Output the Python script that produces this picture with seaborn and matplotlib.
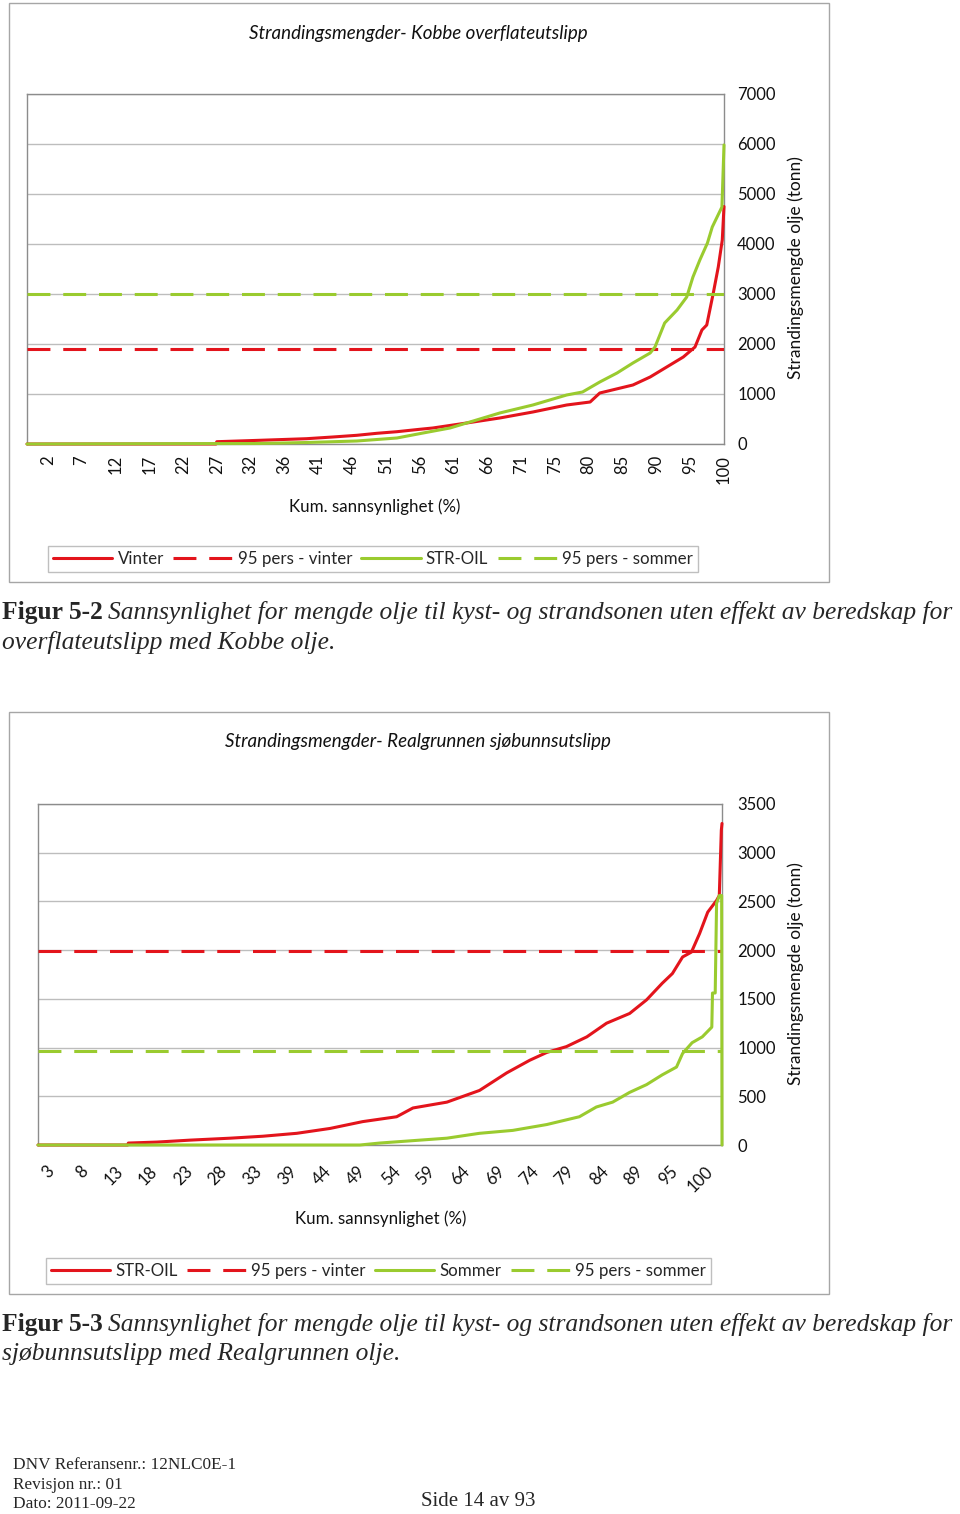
import numpy as np
import matplotlib
matplotlib.use("Agg")
import matplotlib.pyplot as plt
import seaborn as sns
from matplotlib.patches import Rectangle
from matplotlib.lines import Line2D
from matplotlib.transforms import ScaledTranslation

# Figur 5-2: Kobbe overflateutslipp (kum. sannsynlighet %, tonn)
kobbe_vinter_p = [-1.0, 26.4, 26.5, 32.7, 39.5, 43.3, 46.8, 49.7, 52.6, 55.9, 57.8, 62.7, 67.5,
                  72.3, 77.2, 80.6, 82.0, 86.8, 89.3, 91.7, 94.1, 95.8, 96.8, 97.5, 98.45,
                  99.17, 99.75, 100.0]
kobbe_vinter = [0, 0, 46, 74, 106, 140, 174, 214, 246, 294, 320, 420, 520,
                640, 780, 840, 1020, 1180, 1340, 1540, 1740, 1940, 2280, 2380, 3020,
                3540, 4080, 4750]
kobbe_str_p = [-1.0, 32.7, 39.5, 46.8, 52.6, 56.4, 60.3, 65.1, 67.5, 72.3, 77.2, 79.5, 82.0,
               84.5, 86.8, 89.3, 90.0, 91.4, 93.2, 94.6, 95.5, 96.5, 97.6, 98.3, 99.7, 100.0]
kobbe_str = [0, 10, 30, 60, 120, 220, 320, 520, 620, 780, 980, 1040, 1240,
             1420, 1620, 1820, 1940, 2420, 2680, 2940, 3340, 3680, 4020, 4340, 4740, 5980]
kobbe_p95_vinter = 1900
kobbe_p95_sommer = 3000
kobbe_xticks = ["2", "7", "12", "17", "22", "27", "32", "36", "41", "46", "51", "56",
                "61", "66", "71", "75", "80", "85", "90", "95", "100"]

# Figur 5-3: Realgrunnen sjøbunnsutslipp
real_str_p = [-0.7, 12.5, 12.6, 16.8, 21.7, 27.6, 32.4, 37.4, 42.3, 47.1, 52.1, 54.5, 59.5,
              64.3, 68.3, 71.7, 74.2, 77.1, 80.1, 83.0, 86.4, 88.9, 91.2, 92.7, 94.2, 95.5,
              96.7, 97.9, 99.2, 99.6, 99.9, 100.0]
real_str = [0, 0, 20, 30, 50, 70, 90, 120, 170, 240, 290, 380, 440,
            560, 740, 870, 950, 1010, 1110, 1250, 1350, 1490, 1660, 1760, 1930, 1980,
            2170, 2390, 2510, 2560, 3230, 3300]
real_sommer_p = [-0.7, 46.7, 49.6, 59.5, 64.3, 69.2, 74.2, 79.0, 81.5, 83.9, 86.4, 88.9,
                 91.2, 93.3, 94.2, 95.6, 97.1, 98.5, 98.6, 99.0, 99.2, 99.6, 99.95, 100.0]
real_sommer = [0, 0, 20, 70, 120, 150, 210, 290, 390, 440, 540, 620,
               720, 800, 940, 1050, 1110, 1210, 1560, 1560, 2480, 2560, 2560, 0]
real_p95_vinter = 1990
real_p95_sommer = 960
real_xticks = ["3", "8", "13", "18", "23", "28", "33", "39", "44", "49", "54", "59",
               "64", "69", "74", "79", "84", "89", "95", "100"]

sns.set_theme(style="white")
plt.rcParams['font.family'] = ['Lato', 'DejaVu Sans']

RED = "#E3141C"
GREEN = "#9ACB2F"
GRID = "#BDBDBD"
EDGE = "#8C8C8C"
LW = 2.2
DASH = (7.5, 4.2)
FS = 12.2      # axis labels / legend
TFS = 12.0     # tick labels
TITLE_FS = 13.5
CAP_FS = 18.4

W, H = 960, 1514
fig = plt.figure(figsize=(W / 100, H / 100), dpi=100)


def fx(x):
    return x / W


def fy(y):
    return 1 - y / H


def pix_axes(x0, y0, x1, y1):
    return fig.add_axes([fx(x0), fy(y1), (x1 - x0) / W, (y1 - y0) / H])


def chart_box(x0, y0, x1, y1):
    fig.patches.append(Rectangle((fx(x0), fy(y1)), (x1 - x0) / W, (y1 - y0) / H,
                                 transform=fig.transFigure, fill=False,
                                 edgecolor="#A6A6A6", lw=1))


def draw_chart(ax, s1, s2, p95_v, p95_s, ymax, ystep, xlim, ticklabels):
    sns.lineplot(x=s1[0], y=s1[1], ax=ax, color=RED, linewidth=LW,
                 estimator=None, sort=False, clip_on=False, zorder=3)
    ax.axhline(p95_v, color=RED, lw=LW, dashes=DASH, zorder=3)
    sns.lineplot(x=s2[0], y=s2[1], ax=ax, color=GREEN, linewidth=LW,
                 estimator=None, sort=False, clip_on=False, zorder=4)
    ax.axhline(p95_s, color=GREEN, lw=LW, dashes=DASH, zorder=4)
    ax.set_xlim(*xlim)
    ax.set_ylim(0, ymax)
    ax.set_yticks(np.arange(0, ymax + 1, ystep))
    ax.set_xticks(np.linspace(float(ticklabels[0]), 100, len(ticklabels)))
    ax.set_xticklabels(ticklabels)
    ax.yaxis.tick_right()
    ax.grid(axis="y", color=GRID, lw=1)
    ax.grid(axis="x", visible=False)
    for sp in ax.spines.values():
        sp.set_color(EDGE)
        sp.set_linewidth(1)
    ax.set_xlabel("")
    ax.set_ylabel("")


def legend_at(cx, cy, labels):
    handles = [Line2D([], [], color=RED, lw=LW),
               Line2D([], [], color=RED, lw=LW, dashes=DASH),
               Line2D([], [], color=GREEN, lw=LW),
               Line2D([], [], color=GREEN, lw=LW, dashes=DASH)]
    fig.legend(handles, labels, loc="center", bbox_to_anchor=(fx(cx), fy(cy)), ncol=4,
               fontsize=FS, frameon=True, fancybox=False, edgecolor="#BFBFBF",
               framealpha=1, handlelength=3.5, handletextpad=0.3, columnspacing=0.55,
               borderpad=0.3)


# ---------- top chart ----------
chart_box(9, 3, 829, 582)
ax1 = pix_axes(27, 94, 724, 444)
draw_chart(ax1, (kobbe_vinter_p, kobbe_vinter), (kobbe_str_p, kobbe_str),
           kobbe_p95_vinter, kobbe_p95_sommer, 7000, 1000, (-1.0, 100), kobbe_xticks)
ax1.tick_params(axis="y", length=0, pad=9.5, labelsize=TFS, labelcolor="#111111")
ax1.tick_params(axis="x", length=0, pad=8, labelsize=TFS, labelrotation=90, labelcolor="#111111")

fig.text(fx(418), fy(34), "Strandingsmengder- Kobbe overflateutslipp", ha="center",
         va="center", fontsize=TITLE_FS, style="italic", color="#111111")
fig.text(fx(375), fy(507), "Kum. sannsynlighet (%)", ha="center", va="center",
         fontsize=FS, color="#111111")
fig.text(fx(796), fy(268), "Strandingsmengde olje (tonn)", ha="center", va="center",
         rotation=90, fontsize=FS + 0.3, color="#111111")
legend_at(373, 559, ["Vinter", "95 pers - vinter", "STR-OIL", "95 pers - sommer"])

# ---------- bottom chart ----------
chart_box(9, 712, 829, 1294)
ax2 = pix_axes(38, 804, 722, 1145)
draw_chart(ax2, (real_str_p, real_str), (real_sommer_p, real_sommer),
           real_p95_vinter, real_p95_sommer, 3500, 500, (-0.7, 100), real_xticks)
ax2.tick_params(axis="y", length=0, pad=11, labelsize=TFS, labelcolor="#111111")
ax2.tick_params(axis="x", length=0, pad=17, labelsize=TFS, labelcolor="#111111")
shift = ScaledTranslation(-12 / 100, 0, fig.dpi_scale_trans)
for lab in ax2.get_xticklabels():
    lab.set_rotation(45)
    lab.set_ha("right")
    lab.set_va("center")
    lab.set_rotation_mode("anchor")
    lab.set_transform(lab.get_transform() + shift)

fig.text(fx(418), fy(742), "Strandingsmengder- Realgrunnen sjøbunnsutslipp", ha="center",
         va="center", fontsize=TITLE_FS, style="italic", color="#111111")
fig.text(fx(381), fy(1219), "Kum. sannsynlighet (%)", ha="center", va="center",
         fontsize=FS, color="#111111")
fig.text(fx(796), fy(974), "Strandingsmengde olje (tonn)", ha="center", va="center",
         rotation=90, fontsize=FS + 0.3, color="#111111")
legend_at(378.5, 1271, ["STR-OIL", "95 pers - vinter", "Sommer", "95 pers - sommer"])

# ---------- captions ----------
serif = "Liberation Serif"
renderer = fig.canvas.get_renderer()


def caption(y, bold, rest):
    t = fig.text(fx(2), fy(y), bold, ha="left", va="center", fontsize=CAP_FS,
                 fontweight="bold", family=serif)
    bb = t.get_window_extent(renderer)
    fig.text(fx(bb.x1 + 5), fy(y), rest, ha="left", va="center", fontsize=CAP_FS,
             style="italic", family=serif)


caption(613, "Figur 5-2",
        "Sannsynlighet for mengde olje til kyst- og strandsonen uten effekt av beredskap for")
fig.text(fx(2), fy(642), "overflateutslipp med Kobbe olje.", ha="left", va="center",
         fontsize=CAP_FS, style="italic", family=serif)
caption(1325, "Figur 5-3",
        "Sannsynlighet for mengde olje til kyst- og strandsonen uten effekt av beredskap for")
fig.text(fx(2), fy(1354), "sjøbunnsutslipp med Realgrunnen olje.", ha="left", va="center",
         fontsize=CAP_FS, style="italic", family=serif)

# ---------- footer ----------
fig.text(fx(13), fy(1465), "DNV Referansenr.: 12NLC0E-1", ha="left", va="center",
         fontsize=12.4, family=serif)
fig.text(fx(13), fy(1485), "Revisjon nr.: 01", ha="left", va="center",
         fontsize=12.4, family=serif)
fig.text(fx(13), fy(1504), "Dato: 2011-09-22", ha="left", va="center",
         fontsize=12.4, family=serif)
fig.text(fx(421), fy(1502), "Side 14 av 93", ha="left", va="center",
         fontsize=15, family=serif)

fig.savefig("out.png", dpi=100, facecolor="white")
